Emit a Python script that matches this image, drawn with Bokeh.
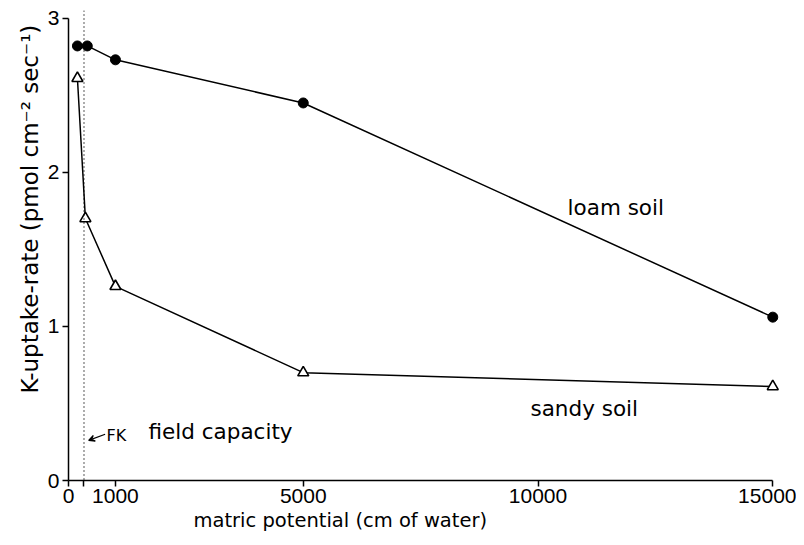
from bokeh.plotting import figure
from bokeh.models import Range1d, FixedTicker, Label, Arrow, VeeHead, Span, Title
from bokeh.embed import file_html
from bokeh.resources import INLINE

# data
loam_x = [190, 400, 1000, 5000, 15000]
loam_y = [2.82, 2.82, 2.73, 2.45, 1.06]
sandy_x = [190, 360, 1000, 5000, 15000]
sandy_y = [2.61, 1.70, 1.26, 0.70, 0.61]
field_capacity_x = 330
x_ticks = [0, 330, 1000, 5000, 10000, 15000]
y_ticks = [0, 1, 2, 3]

FONT = "DejaVu Sans"

p = figure(width=796, height=533, output_backend="svg", toolbar_location=None,
           x_range=Range1d(0, 15250), y_range=Range1d(0, 3.05),
           min_border_left=68, min_border_right=12, min_border_top=10, min_border_bottom=5)
p.outline_line_color = None
p.xgrid.visible = False
p.ygrid.visible = False

for ax in (p.xaxis, p.yaxis):
    ax.axis_line_color = "black"
    ax.axis_line_width = 1.5
    ax.major_tick_line_color = "black"
    ax.major_tick_line_width = 1.5
    ax.major_tick_out = 6
    ax.major_tick_in = 0
    ax.minor_tick_line_color = None
    ax.major_label_text_font = "Liberation Sans"
    ax.major_label_text_font_size = "21px"
    ax.major_label_text_color = "black"

p.xaxis.bounds = (0, 15000)
p.yaxis.bounds = (0, 3)
p.xaxis.ticker = FixedTicker(ticks=x_ticks)
p.xaxis.major_label_overrides = {330: ""}
p.xaxis.major_label_standoff = 2
p.yaxis.ticker = FixedTicker(ticks=y_ticks)
p.yaxis.major_label_standoff = 3

p.add_layout(Title(text="K-uptake-rate (pmol cm\u207b\u00b2 sec\u207b\u00b9)", align="left",
                   offset=87, text_font=FONT, text_font_size="23px",
                   text_font_style="normal", text_color="black", standoff=3), "left")
p.add_layout(Title(text="matric potential (cm of water)", align="left", offset=125,
                   text_font=FONT, text_font_size="19.5px", text_font_style="normal",
                   text_color="black", standoff=3), "below")

# field capacity dotted line
p.add_layout(Span(location=field_capacity_x, dimension="height", line_color="black",
                  line_width=1.3, line_dash="1 3"))

# series
p.line(loam_x, loam_y, line_color="black", line_width=1.5)
p.scatter(loam_x, loam_y, marker="circle", size=10, fill_color="black", line_color="black")
p.line(sandy_x, sandy_y, line_color="black", line_width=1.5)
p.scatter(sandy_x, sandy_y, marker="triangle", size=11, fill_color="white",
          line_color="black", line_width=1.6)

def lab(x, y, t, size="21.5px", align="left"):
    p.add_layout(Label(x=x, y=y, text=t, text_font=FONT, text_font_size=size,
                       text_align=align, text_baseline="middle", text_color="black"))

lab(10630, 1.77, "loam soil")
lab(9840, 0.47, "sandy soil")
lab(1705, 0.32, "field capacity")
lab(810, 0.29, "FK", size="16px")

p.add_layout(Arrow(end=VeeHead(size=6, line_color="black", line_width=1.2),
                   x_start=780, y_start=0.30, x_end=430, y_end=0.26,
                   line_color="black", line_width=1.2))

open("out.html", "w").write(file_html(p, INLINE))
